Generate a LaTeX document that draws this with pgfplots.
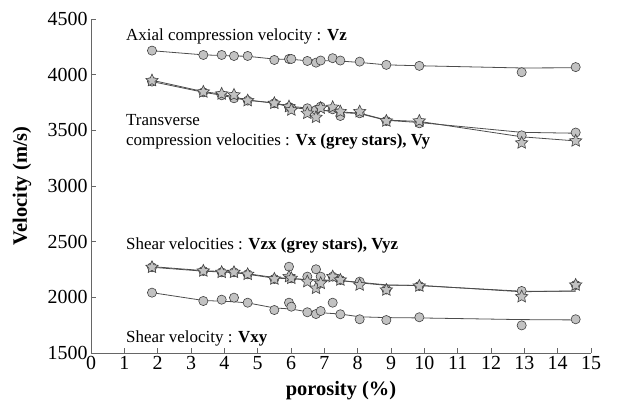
\documentclass[border=0pt]{standalone}
\usepackage{fontspec}
\setmainfont{Liberation Serif}
\usepackage{pgfplots}
\usepackage{pgfplotstable}
\pgfplotsset{compat=1.18}
\definecolor{mk}{gray}{0.76}
\definecolor{ln}{gray}{0.30}
\definecolor{ax}{gray}{0.40}

\pgfdeclareplotmark{fstar}{%
  \pgfpathmoveto{\pgfpointpolar{90}{\pgfplotmarksize}}%
  \pgfpathlineto{\pgfpointpolar{126}{0.48\pgfplotmarksize}}%
  \pgfpathlineto{\pgfpointpolar{162}{\pgfplotmarksize}}%
  \pgfpathlineto{\pgfpointpolar{198}{0.48\pgfplotmarksize}}%
  \pgfpathlineto{\pgfpointpolar{234}{\pgfplotmarksize}}%
  \pgfpathlineto{\pgfpointpolar{270}{0.48\pgfplotmarksize}}%
  \pgfpathlineto{\pgfpointpolar{306}{\pgfplotmarksize}}%
  \pgfpathlineto{\pgfpointpolar{342}{0.48\pgfplotmarksize}}%
  \pgfpathlineto{\pgfpointpolar{18}{\pgfplotmarksize}}%
  \pgfpathlineto{\pgfpointpolar{54}{0.48\pgfplotmarksize}}%
  \pgfpathclose
  \pgfusepathqfillstroke}

% porosity and measured velocities
\pgfplotstableread{
x     Vz    Vy    Vx    Vyz   Vzx   Vxy
1.83  4216  3938  3947  2270  2270  2042
3.37  4177  3842  3845  2237  2237  1967
3.92  4177  3815  3827  2225  2225  1979
4.29  4168  3788  3818  2225  2225  1997
4.70  4168  3767  3767  2207  2207  1952
5.50  4132  3743  3743  2165  2165  1886
5.94  4141  3710  3713  2275  2186  1952
6.01  4141  3700  3683  2171  2171  1916
6.49  4123  3698  3653  2186  2141  1866
6.75  4108  3683  3617  2252  2081  1850
6.89  4127  3713  3700  2186  2126  1877
7.25  4148  3689  3707  2186  2186  1952
7.48  4127  3629  3668  2156  2156  1848
8.06  4117  3653  3668  2141  2111  1803
8.86  4088  3584  3584  2070  2066  1796
9.85  4079  3563  3584  2102  2102  1821
12.92 4022  3455  3387  2057  2006  1748
14.54 4068  3480  3405  2111  2111  1803
}\vel

\begin{document}
\begin{tikzpicture}
\begin{axis}[
  width=500bp, height=334bp, scale only axis,
  xmin=0, xmax=15, ymin=1500, ymax=4500,
  xtick={0,1,...,15}, ytick={1500,2000,...,4500},
  axis lines=left, axis line style={-, ax, line width=0.9pt},
  tick style={ax, line width=0.7pt}, major tick length=5bp,
  tick align=inside,
  ticklabel style={font=\fontsize{20}{20}\selectfont},
  /pgf/number format/assume math mode=true,
  /pgf/number format/1000 sep={},
  xticklabel={\pgfmathprintnumber{\tick}},
  yticklabel={\pgfmathprintnumber{\tick}},
  xlabel={\textbf{porosity (\%)}}, ylabel={\textbf{Velocity (m/s)}},
  label style={font=\fontsize{20.5}{20.5}\selectfont},
  xlabel style={at={(axis description cs:0.5,-0.112)}, anchor=center},
  ylabel style={at={(axis description cs:-0.138,0.5)}, anchor=center},
  clip=false,
]
% trend lines
\addplot[ln, line width=0.8pt, no marks] coordinates {(1.83,4215) (3.37,4178) (4.29,4168) (4.70,4165) (5.50,4140) (6.01,4138) (6.49,4125) (7.25,4125) (7.48,4122) (8.06,4110) (8.86,4088) (9.85,4080) (12.92,4060) (14.54,4062)};
\addplot[ln, line width=0.8pt, no marks] coordinates {(1.83,3938) (3.37,3842) (3.92,3815) (4.29,3790) (4.70,3770) (5.50,3745) (6.01,3715) (6.49,3700) (7.48,3660) (8.06,3650) (8.86,3590) (9.85,3570) (12.92,3482) (14.54,3474)};
\addplot[ln, line width=0.8pt, no marks] coordinates {(1.83,3950) (3.37,3848) (3.92,3825) (4.70,3772) (5.50,3745) (6.01,3705) (6.49,3690) (7.48,3665) (8.06,3655) (8.86,3592) (9.85,3580) (12.92,3442) (14.54,3405)};
\addplot[ln, line width=0.8pt, no marks] coordinates {(1.83,2270) (3.37,2235) (4.29,2222) (4.70,2207) (5.50,2172) (6.01,2168) (6.49,2160) (7.48,2150) (8.06,2135) (8.86,2112) (9.85,2105) (12.92,2055) (14.54,2055)};
\addplot[ln, line width=0.8pt, no marks] coordinates {(1.83,2276) (3.37,2240) (4.29,2226) (4.70,2212) (5.50,2178) (6.01,2170) (6.49,2156) (7.48,2152) (8.06,2130) (8.86,2108) (9.85,2108) (12.92,2050) (14.54,2058)};
\addplot[ln, line width=0.8pt, no marks] coordinates {(1.83,2042) (3.37,1972) (4.29,1960) (4.70,1950) (5.50,1905) (6.01,1895) (6.49,1870) (7.48,1850) (8.06,1825) (8.86,1818) (9.85,1815) (12.92,1800) (14.54,1797)};

% circles
\pgfplotsset{circ/.style={only marks, mark=*, mark size=4.6bp, mark options={fill=mk, draw=black!75, line width=0.6pt}},
             stars/.style={only marks, mark=fstar, mark size=6.5bp, mark options={fill=mk, draw=black!75, line width=0.6pt}}}
\addplot[circ] table[x=x, y=Vz] {\vel};
\addplot[circ] table[x=x, y=Vy] {\vel};
\addplot[circ] table[x=x, y=Vyz] {\vel};
\addplot[circ] table[x=x, y=Vxy] {\vel};
% grey stars
\addplot[stars] table[x=x, y=Vx] {\vel};
\addplot[stars] table[x=x, y=Vzx] {\vel};

\node[anchor=west, font=\fontsize{17}{17}\selectfont, inner sep=0pt] at (axis cs:1.05,4342) {Axial compression velocity : \textbf{Vz}};
\node[anchor=west, font=\fontsize{17}{17}\selectfont, inner sep=0pt] at (axis cs:1.05,3593) {Transverse};
\node[anchor=west, font=\fontsize{17}{17}\selectfont, inner sep=0pt] at (axis cs:1.05,3398) {compression velocities : \textbf{Vx (grey stars), Vy}};
\node[anchor=west, font=\fontsize{17}{17}\selectfont, inner sep=0pt] at (axis cs:1.05,2470) {Shear velocities : \textbf{Vzx (grey stars), Vyz}};
\node[anchor=west, font=\fontsize{17}{17}\selectfont, inner sep=0pt] at (axis cs:1.05,1632) {Shear velocity : \textbf{Vxy}};
\end{axis}
\path ([shift={(-91bp,-56bp)}]current axis.south west) rectangle ([shift={(47bp,19bp)}]current axis.north east);
\end{tikzpicture}
\end{document}
